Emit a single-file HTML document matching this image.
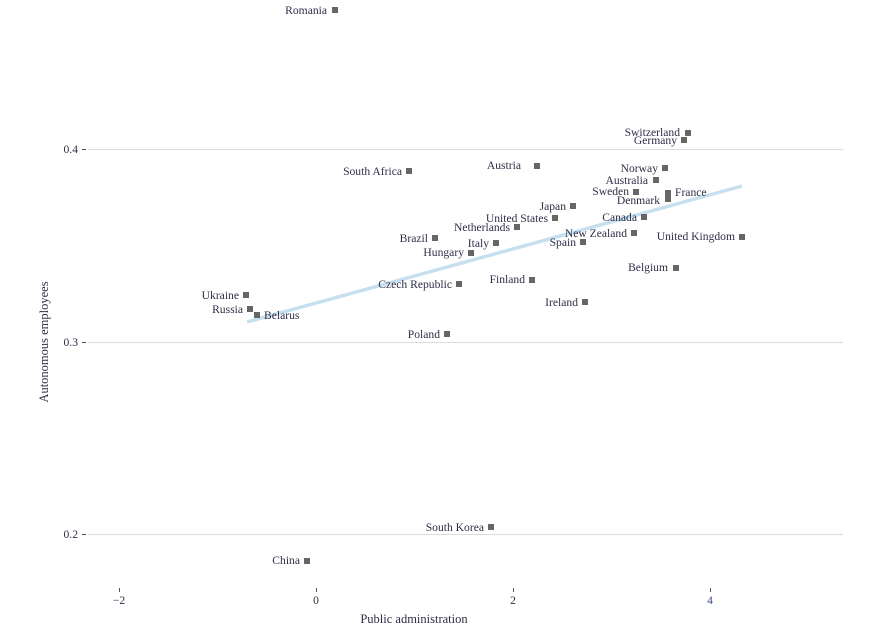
<!DOCTYPE html>
<html><head><style>body{margin:0;background:#fff}svg{display:block}text{font-family:"Liberation Serif",serif;font-size:11.6px;fill:#2e2e48}</style></head>
<body>
<svg width="876" height="631" xmlns="http://www.w3.org/2000/svg">
<g stroke="#dcdcdc" stroke-width="1">
<line x1="88" y1="149.5" x2="843" y2="149.5"/>
<line x1="88" y1="342.5" x2="843" y2="342.5"/>
<line x1="88" y1="534.5" x2="843" y2="534.5"/>
</g>
<g stroke="#555" stroke-width="1">
<line x1="82" y1="149.5" x2="86" y2="149.5"/>
<line x1="82" y1="342.5" x2="86" y2="342.5"/>
<line x1="82" y1="534.5" x2="86" y2="534.5"/>
<line x1="119.5" y1="588" x2="119.5" y2="592"/>
<line x1="316.5" y1="588" x2="316.5" y2="592"/>
<line x1="513.5" y1="588" x2="513.5" y2="592"/>
<line x1="710.5" y1="588" x2="710.5" y2="592"/>
</g>
<g text-anchor="end">
<text x="78" y="153">0.4</text><text x="78" y="346">0.3</text><text x="78" y="538">0.2</text>
</g>
<g text-anchor="middle">
<text x="119" y="604">−2</text><text x="316" y="604">0</text><text x="513" y="604">2</text><text x="710" y="604" style="fill:#3a4a8a">4</text>
<text x="414" y="623" style="font-size:12.5px">Public administration</text>
<text transform="translate(48,342) rotate(-90)" style="font-size:12.5px">Autonomous employees</text>
</g>
<line x1="247" y1="322" x2="742" y2="186" stroke="#c6e0ee" stroke-width="3.5"/>
<g fill="#666">
<rect x="332" y="7" width="6" height="6"/>
<rect x="685" y="130" width="6" height="6"/>
<rect x="681" y="137" width="6" height="6"/>
<rect x="662" y="165" width="6" height="6"/>
<rect x="534" y="163" width="6" height="6"/>
<rect x="406" y="168" width="6" height="6"/>
<rect x="653" y="177" width="6" height="6"/>
<rect x="633" y="189" width="6" height="6"/>
<rect x="665" y="190" width="6" height="12"/>
<rect x="570" y="203" width="6" height="6"/>
<rect x="552" y="215" width="6" height="6"/>
<rect x="641" y="214" width="6" height="6"/>
<rect x="514" y="224" width="6" height="6"/>
<rect x="631" y="230" width="6" height="6"/>
<rect x="432" y="235" width="6" height="6"/>
<rect x="739" y="234" width="6" height="6"/>
<rect x="493" y="240" width="6" height="6"/>
<rect x="580" y="239" width="6" height="6"/>
<rect x="468" y="250" width="6" height="6"/>
<rect x="673" y="265" width="6" height="6"/>
<rect x="529" y="277" width="6" height="6"/>
<rect x="456" y="281" width="6" height="6"/>
<rect x="582" y="299" width="6" height="6"/>
<rect x="243" y="292" width="6" height="6"/>
<rect x="247" y="306" width="6" height="6"/>
<rect x="254" y="312" width="6" height="6"/>
<rect x="444" y="331" width="6" height="6"/>
<rect x="488" y="524" width="6" height="6"/>
<rect x="304" y="558" width="6" height="6"/>
</g>
<g text-anchor="end">
<text x="327" y="14">Romania</text>
<text x="680" y="136">Switzerland</text>
<text x="677" y="144">Germany</text>
<text x="658" y="172">Norway</text>
<text x="521" y="169">Austria</text>
<text x="402" y="175">South Africa</text>
<text x="648" y="184">Australia</text>
<text x="629" y="195">Sweden</text>
<text x="660" y="204">Denmark</text>
<text x="566" y="210">Japan</text>
<text x="548" y="222">United States</text>
<text x="637" y="221">Canada</text>
<text x="510" y="231">Netherlands</text>
<text x="627" y="237">New Zealand</text>
<text x="428" y="242">Brazil</text>
<text x="735" y="240">United Kingdom</text>
<text x="489" y="247">Italy</text>
<text x="576" y="246">Spain</text>
<text x="464" y="256">Hungary</text>
<text x="668" y="271">Belgium</text>
<text x="525" y="283">Finland</text>
<text x="452" y="288">Czech Republic</text>
<text x="578" y="306">Ireland</text>
<text x="239" y="299">Ukraine</text>
<text x="243" y="313">Russia</text>
<text x="440" y="338">Poland</text>
<text x="484" y="531">South Korea</text>
<text x="300" y="564">China</text>
</g>
<text x="675" y="196">France</text>
<text x="264" y="319">Belarus</text>
</svg>
</body></html>
